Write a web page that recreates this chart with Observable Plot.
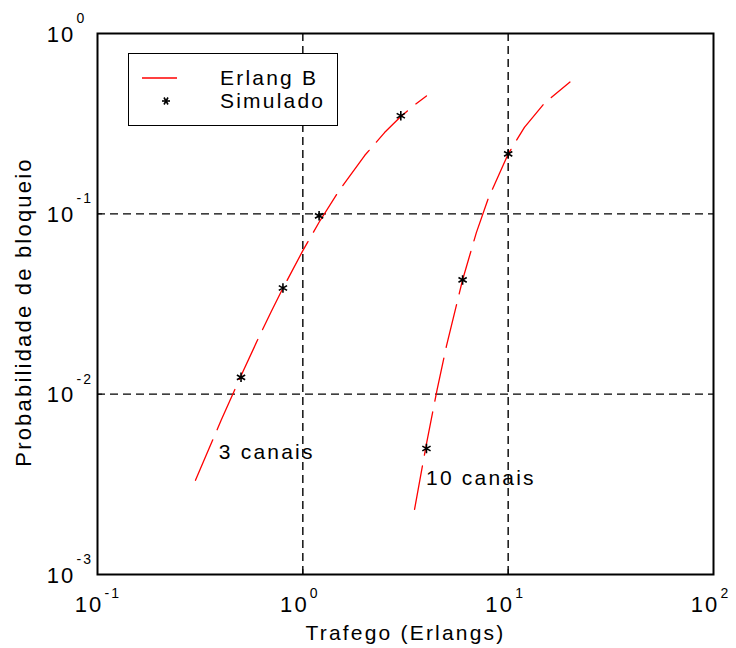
<!DOCTYPE html>
<html><head><meta charset="utf-8">
<script src="https://cdn.jsdelivr.net/npm/d3@7"></script>
<script src="https://cdn.jsdelivr.net/npm/@observablehq/plot@0.6"></script>
<style>
body{margin:0;background:#fff;}
#wrap{position:relative;width:736px;height:648px;}
#legend{position:absolute;left:128px;top:53px;width:210px;height:73px;box-sizing:border-box;border:1.6px solid #000;background:#fff;font-family:"Liberation Sans",Arial,sans-serif;font-size:21px;letter-spacing:2.2px;color:#000;}
#legend .row{position:absolute;left:0;height:24px;line-height:24px;width:100%;}
#legend .lab{position:absolute;left:91px;top:0;}
#legend svg{position:absolute;left:0;top:0;}
</style></head><body><div id="wrap"></div>
<script>
// Erlang B curves
const traffic3 = [0.3, 0.4, 0.5, 0.6, 0.7, 0.8, 1.0, 1.2, 1.5, 2, 2.5, 3, 3.5, 4];
const erlang3  = [0.00333, 0.00716, 0.01266, 0.01982, 0.02855, 0.0387, 0.0625, 0.0898, 0.1343, 0.2105, 0.2822, 0.3462, 0.4021, 0.4507];
const traffic10 = [3.5, 4, 4.5, 5, 6, 7, 8, 10, 12, 15, 20];
const erlang10  = [0.0023, 0.0053, 0.0105, 0.0184, 0.0431, 0.0787, 0.1217, 0.2146, 0.3019, 0.4103, 0.538];
// Simulated points
const sim3A = [0.5, 0.8, 1.2, 3];
const sim3B = [0.0124, 0.0388, 0.0975, 0.35];
const sim10A = [4, 6, 10];
const sim10B = [0.005, 0.043, 0.215];
// Axes
const xTicks = [0.1, 1, 10, 100];
const xExp = ["-1", "0", "1", "2"];
const yTicks = [0.001, 0.01, 0.1, 1];
const yExp = ["-3", "-2", "-1", "0"];
const xGrid = [1, 10];
const yGrid = [0.01, 0.1];
// Annotations
const notes = ["3 canais", "10 canais"];
const noteX = [0.39, 3.98];
const noteY = [0.00476, 0.00341];
const xLabel = "Trafego (Erlangs)";
const yLabel = "Probabilidade de bloqueio";
const legendLabels = ["Erlang B", "Simulado"];

const curves = [
  ...traffic3.map((a, i) => ({a, b: erlang3[i], s: "3"})),
  ...traffic10.map((a, i) => ({a, b: erlang10[i], s: "10"}))
];
const sims = [
  ...sim3A.map((a, i) => ({a, b: sim3B[i]})),
  ...sim10A.map((a, i) => ({a, b: sim10B[i]}))
];
const font = '"Liberation Sans", Arial, sans-serif';

const chart = Plot.plot({
  width: 736, height: 648,
  marginLeft: 97, marginRight: 23, marginTop: 33, marginBottom: 74,
  x: {type: "log", domain: [0.1, 100]},
  y: {type: "log", domain: [0.001, 1]},
  style: {fontFamily: font, letterSpacing: "2.2px", background: "#fff", color: "#000"},
  marks: [
    Plot.gridX(xGrid, {stroke: "#000", strokeOpacity: 1, strokeWidth: 1.4, strokeDasharray: "8,5"}),
    Plot.gridY(yGrid, {stroke: "#000", strokeOpacity: 1, strokeWidth: 1.4, strokeDasharray: "8,5"}),
    Plot.axisX({ticks: xTicks, anchor: "bottom", tickSize: 5, dy: -5, tickFormat: () => "", label: null, stroke: "#000"}),
    Plot.axisY({ticks: yTicks, anchor: "left", tickSize: 5, dx: 5, tickFormat: () => "", label: null, stroke: "#000"}),
    Plot.line(curves, {x: "a", y: "b", z: "s", stroke: "#ff0000", strokeWidth: 1.3, strokeDasharray: "44,11"}),
    Plot.dot(sims, {x: "a", y: "b", symbol: "asterisk", r: 4.5, stroke: "#000", strokeWidth: 1.6}),
    Plot.text(notes, {x: (d, i) => noteX[i], y: (d, i) => noteY[i], text: d => d, textAnchor: "start", fontSize: 21, fill: "#000"}),
    // x tick labels
    Plot.text(xTicks, {x: d => d, frameAnchor: "bottom", lineAnchor: "middle", text: () => "10", textAnchor: "end", dx: 6, dy: 30, fontSize: 22, fill: "#000"}),
    Plot.text(xTicks, {x: d => d, frameAnchor: "bottom", lineAnchor: "middle", text: (d, i) => xExp[i], textAnchor: "start", dx: 7, dy: 19, fontSize: 14, fill: "#000"}),
    // y tick labels
    Plot.text(yTicks, {y: d => d, frameAnchor: "left", lineAnchor: "middle", text: () => "10", textAnchor: "end", dx: -22, dy: 1, fontSize: 22, fill: "#000"}),
    Plot.text(yTicks, {y: d => d, frameAnchor: "left", lineAnchor: "middle", text: (d, i) => yExp[i], textAnchor: "start", dx: -21, dy: -15, fontSize: 14, fill: "#000"}),
    // axis labels
    Plot.text([xLabel], {frameAnchor: "bottom", lineAnchor: "middle", textAnchor: "middle", dy: 59, fontSize: 21, fill: "#000"}),
    Plot.text([yLabel], {frameAnchor: "left", lineAnchor: "middle", textAnchor: "middle", dx: -74, dy: 8, rotate: -90, fontSize: 22, fill: "#000"}),
    Plot.frame({stroke: "#000", strokeWidth: 2})
  ]
});
const wrap = document.getElementById("wrap");
wrap.appendChild(chart);

// legend (HTML overlay inside the axes)
const leg = document.createElement("div");
leg.id = "legend";
leg.innerHTML = `
<div class="row" style="top:12px"><svg width="90" height="24"><line x1="13" x2="48" y1="12" y2="12" stroke="#ff0000" stroke-width="1.4"/></svg><span class="lab">${legendLabels[0]}</span></div>
<div class="row" style="top:35px"><svg width="90" height="24"><g stroke="#000" stroke-width="1.6" transform="translate(37,12)"><line x1="-4" x2="4" y1="0" y2="0"/><line x1="-2" x2="2" y1="-3.5" y2="3.5"/><line x1="2" x2="-2" y1="-3.5" y2="3.5"/></g></svg><span class="lab">${legendLabels[1]}</span></div>`;
wrap.appendChild(leg);
</script>
</body></html>
